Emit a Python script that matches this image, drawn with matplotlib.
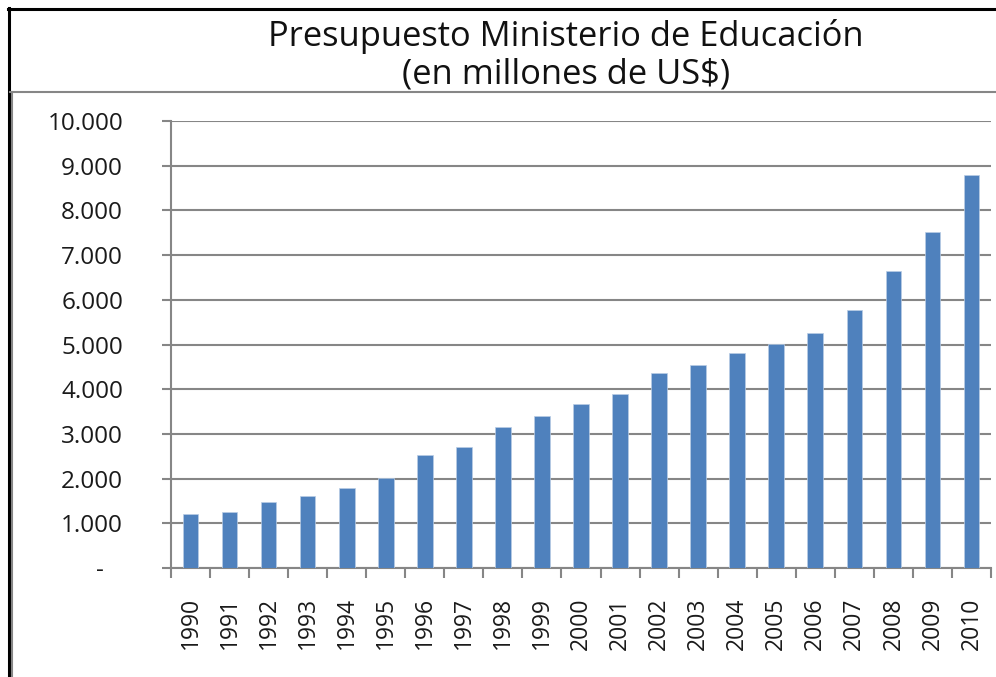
import numpy as np
import matplotlib
matplotlib.use("Agg")
import matplotlib.pyplot as plt
from matplotlib.lines import Line2D
from matplotlib.ticker import FuncFormatter, FixedLocator

years = [str(y) for y in range(1990, 2011)]
budget = [1200, 1250, 1480, 1610, 1800, 2010, 2520, 2710, 3160, 3400, 3670,
          3890, 4360, 4540, 4820, 5020, 5260, 5770, 6640, 7520, 8800]
yticks = list(range(0, 10001, 1000))

title = "Presupuesto Ministerio de Educación\n(en millones de US$)"

plt.rcParams['font.family'] = ['Open Sans', 'DejaVu Sans']

W, H = 996, 677
fig = plt.figure(figsize=(W / 100, H / 100), dpi=100)
ax = fig.add_axes([171 / W, (H - 568) / H, (991 - 171) / W, (568 - 121) / H])

grey = '#868686'
x = np.arange(len(years))
ax.bar(x, budget, width=0.4, color='#4F81BD', edgecolor='#B9CDE5',
       linewidth=0.5, zorder=3)

ax.set_xlim(-0.5, len(years) - 0.5)
ax.set_ylim(0, 10000)
ax.set_yticks(yticks)
ax.grid(axis='y', color=grey, linewidth=1.5, zorder=0)

def fmt(v, pos):
    if v == 0:
        return '-   '
    return '{:,.0f}'.format(v).replace(',', '.')

ax.yaxis.set_major_formatter(FuncFormatter(fmt))
ax.set_xticks(x)
ax.set_xticklabels(years, rotation=90)
ax.xaxis.set_minor_locator(FixedLocator(np.arange(-0.5, len(years), 1.0)))
ax.tick_params(axis='x', which='major', length=0, pad=21, labelsize=16.5,
               labelcolor='#1a1a1a')
ax.tick_params(axis='x', which='minor', length=7, width=1.5, color=grey,
               direction='out')
ax.tick_params(axis='y', length=6.5, width=1.5, color=grey, pad=28,
               labelsize=17.5, labelcolor='#1a1a1a')

for side in ['top', 'right']:
    ax.spines[side].set_visible(False)
for side in ['left', 'bottom']:
    ax.spines[side].set_color(grey)
    ax.spines[side].set_linewidth(1.5)

# frame lines of the screenshot
def hline(y, x0, x1, color, lw):
    fig.add_artist(Line2D([x0 / W, x1 / W], [1 - y / H, 1 - y / H],
                          transform=fig.transFigure, color=color, linewidth=lw))

def vline(xp, y0, y1, color, lw):
    fig.add_artist(Line2D([xp / W, xp / W], [1 - y0 / H, 1 - y1 / H],
                          transform=fig.transFigure, color=color, linewidth=lw))

vline(9, 8, H, 'black', 2.2)
hline(9, 8, W, 'black', 2.2)
hline(92, 10, W, grey, 1.5)
vline(11.5, 92, H, grey, 1.5)

fig.text(566 / W, 1 - 55 / H, title, ha='center', va='center',
         fontsize=24.8, color='#111111', linespacing=1.15)

fig.savefig('out.png', dpi=100)
